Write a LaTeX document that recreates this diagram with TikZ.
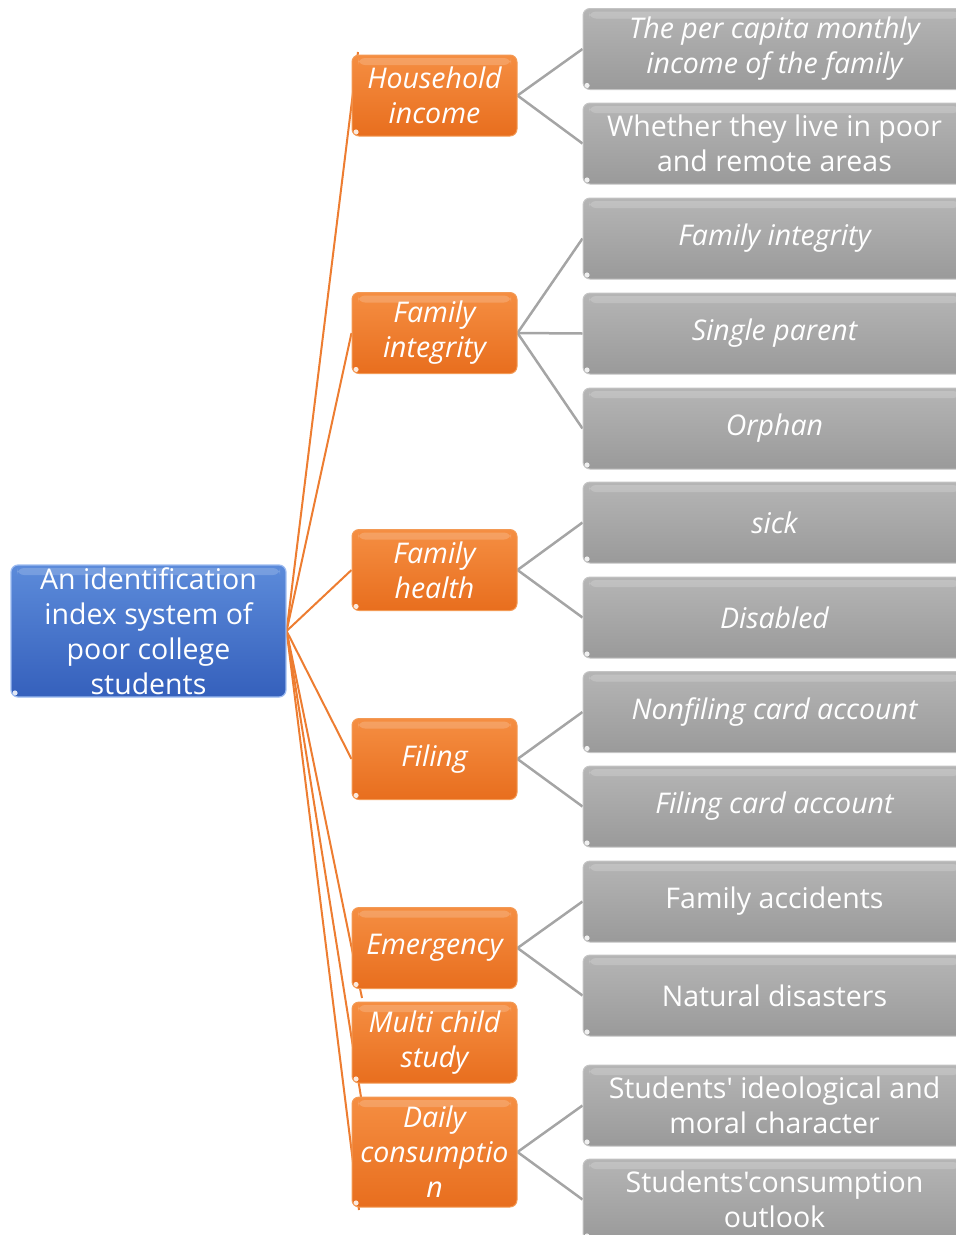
\documentclass[tikz,border=0pt]{standalone}
\usepackage{fontspec}
\setmainfont{Open Sans}[Ligatures=TeXOff]
\usetikzlibrary{backgrounds}
\definecolor{orT}{HTML}{F58E42}
\definecolor{orB}{HTML}{E86E1E}
\definecolor{orD}{HTML}{F39A55}
\definecolor{orL}{HTML}{ED7D31}
\definecolor{grT}{HTML}{B5B5B5}
\definecolor{grB}{HTML}{9A9A9A}
\definecolor{grD}{HTML}{C4C4C4}
\definecolor{grL}{HTML}{A5A5A5}
\definecolor{blT}{HTML}{5C8BDA}
\definecolor{blB}{HTML}{3560BC}
\definecolor{blD}{HTML}{9DBBF0}
\begin{document}
\begin{tikzpicture}[x=1pt,y=-1pt,
  box/.style={rectangle, rounded corners=7pt, inner sep=1pt, align=center,
    text=white, font=\fontsize{28.5}{35}\selectfont},
  gloss/.style={path picture={
    \fill[white,opacity=0.18] ([xshift=6pt,yshift=-3pt]path picture bounding box.north west)
       rectangle ([xshift=-6pt,yshift=-10pt]path picture bounding box.north east);
    \fill[white,opacity=0.85] ([xshift=4pt,yshift=4pt]path picture bounding box.south west) circle (2.6pt);
  }},
  rootbox/.style={box, gloss, minimum width=275pt, minimum height=132pt,
    top color=blT, bottom color=blB, draw=blD, line width=1.2pt},
  midbox/.style={box, gloss, minimum width=165pt, minimum height=81pt,
    top color=orT, bottom color=orB, draw=orD, line width=1pt,
    font=\fontsize{28.5}{35}\selectfont\itshape},
  leafbox/.style={box, gloss, minimum width=383pt, minimum height=81pt,
    top color=grT, bottom color=grB, draw=grD, line width=1pt},
  leafit/.style={leafbox, font=\fontsize{28.5}{35}\selectfont\itshape},
  olink/.style={draw=orL, line width=2pt},
  glink/.style={draw=grL, line width=2.5pt}
]
\useasboundingbox (0,0) rectangle (956,1235);

% root
\node[rootbox] (root) at (148.5,631) {An identification\\index system of\\poor college\\students};

% middle level
\node[midbox] (h1) at (434.5,95.5) {Household\\income};
\node[midbox] (h2) at (434.5,333) {Family\\integrity};
\node[midbox] (h3) at (434.5,570) {Family\\health};
\node[midbox] (h4) at (434.5,759) {Filing};
\node[midbox] (h5) at (434.5,948) {Emergency};
\node[midbox] (h6) at (434.5,1042.5) {Multi child\\study};
\node[midbox, minimum height=110pt] (h7) at (434.5,1152) {Daily\\consumptio\\n};

% leaves
\node[leafit]  (g1)  at (774.5,49)     {The per capita monthly\\income of the family};
\node[leafbox] (g2)  at (774.5,143.5)  {Whether they live in poor\\and remote areas};
\node[leafit]  (g3)  at (774.5,238.5)  {Family integrity};
\node[leafit]  (g4)  at (774.5,333.5)  {Single parent};
\node[leafit]  (g5)  at (774.5,428.5)  {Orphan};
\node[leafit]  (g6)  at (774.5,522.5)  {sick};
\node[leafit]  (g7)  at (774.5,617.5)  {Disabled};
\node[leafit]  (g8)  at (774.5,712)    {Nonfiling card account};
\node[leafit]  (g9)  at (774.5,806.5)  {Filing card account};
\node[leafbox] (g10) at (774.5,901.5)  {Family accidents};
\node[leafbox] (g11) at (774.5,995.5)  {Natural disasters};
\node[leafbox] (g12) at (774.5,1105.5) {Students' ideological and\\moral character};
\node[leafbox] (g13) at (774.5,1199.5) {Students'consumption\\outlook};

% free ends of the root connectors
\coordinate (e1) at (358,52);
\coordinate (e5) at (362,998);
\coordinate (e6) at (361,1097);
\coordinate (e7) at (359,1210);

\begin{pgfonlayer}{background}
  \draw[olink] (root.east) -- (e1);
  \draw[olink] (root.east) -- (h2.west);
  \draw[olink] (root.east) -- (h3.west);
  \draw[olink] (root.east) -- (h4.west);
  \draw[olink] (root.east) -- (e5);
  \draw[olink] (root.east) -- (e6);
  \draw[olink] (root.east) -- (e7);

  \draw[glink] (h1.east) -- (g1.west);
  \draw[glink] (h1.east) -- (g2.west);
  \draw[glink] (h2.east) -- (g3.west);
  \draw[glink] (h2.east) -- (g4.west);
  \draw[glink] (h2.east) -- (g5.west);
  \draw[glink] (h3.east) -- (g6.west);
  \draw[glink] (h3.east) -- (g7.west);
  \draw[glink] (h4.east) -- (g8.west);
  \draw[glink] (h4.east) -- (g9.west);
  \draw[glink] (h5.east) -- (g10.west);
  \draw[glink] (h5.east) -- (g11.west);
  \draw[glink] (h7.east) -- (g12.west);
  \draw[glink] (h7.east) -- (g13.west);
\end{pgfonlayer}
\end{tikzpicture}
\end{document}
